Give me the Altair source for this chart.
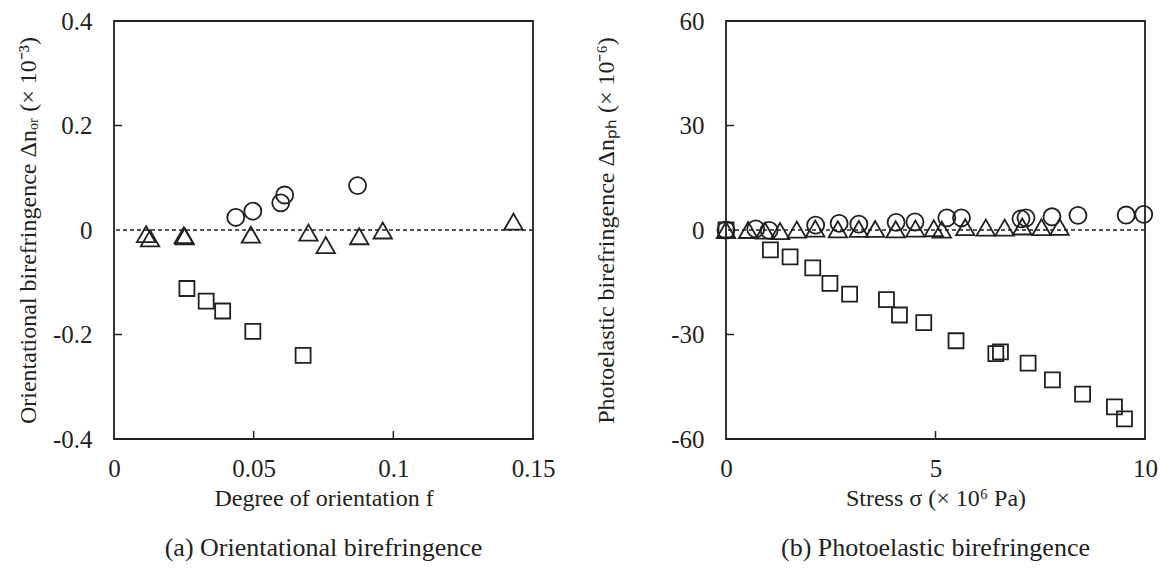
import altair as alt
import pandas as pd

INK = "#231f20"
FONT = "Liberation Serif"

# ---------------- Panel (a): orientational birefringence ----------------
a_circle_f = [0.0436, 0.0497, 0.0597, 0.0611, 0.0872]
a_circle_v = [0.024, 0.036, 0.052, 0.067, 0.085]
a_tri_f = [0.0115, 0.0129, 0.0250, 0.0253, 0.0490, 0.0696, 0.0758, 0.0878, 0.0962, 0.1430]
a_tri_v = [-0.008, -0.016, -0.010, -0.012, -0.009, -0.005, -0.029, -0.012, -0.001, 0.016]
a_sq_f = [0.0261, 0.0330, 0.0389, 0.0497, 0.0677]
a_sq_v = [-0.112, -0.136, -0.155, -0.194, -0.240]
a_xticks = [0, 0.05, 0.1, 0.15]
a_yticks = [-0.4, -0.2, 0, 0.2, 0.4]

# ---------------- Panel (b): photoelastic birefringence ----------------
b_circle_s = [0.0, 0.71, 1.03, 2.14, 2.70, 3.17, 4.06, 4.51, 5.27, 5.62, 7.04, 7.16, 7.78, 8.40, 9.55, 9.97]
b_circle_v = [0.0, 0.3, -0.1, 1.4, 1.9, 1.7, 2.2, 2.3, 3.5, 3.5, 3.2, 3.5, 3.8, 4.2, 4.3, 4.5]
b_tri_s = [0.0, 0.53, 0.93, 1.29, 1.69, 2.13, 2.67, 3.17, 3.56, 4.05, 4.52, 4.96, 5.15,
           5.71, 6.20, 6.65, 7.07, 7.53, 7.96]
b_tri_v = [0.0, 0.0, -0.2, -0.3, 0.1, 0.4, 0.2, 0.3, 0.3, 0.2, 0.4, 0.5, 0.1,
           0.8, 0.7, 0.7, 1.0, 0.8, 0.9]
b_sq_s = [0.0, 1.06, 1.53, 2.07, 2.48, 2.95, 3.83, 4.14, 4.72, 5.49, 6.44, 6.55, 7.21,
          7.79, 8.51, 9.27, 9.51]
b_sq_v = [0.0, -5.7, -7.7, -10.9, -15.3, -18.4, -20.0, -24.4, -26.6, -31.8, -35.5, -35.0,
          -38.2, -43.0, -47.1, -50.8, -54.2]
b_xticks = [0, 5, 10]
b_yticks = [-60, -30, 0, 30, 60]

W, H = 419, 418

LABEL_EXPR = "(datum.value < 0 ? '-' : '') + format(abs(datum.value), '~g')"


def panel(cx, cy, tx, ty, sx, sy, xticks, yticks, xtitle, ytitle, caption, ytitle_pad):
    xdom = [xticks[0], xticks[-1]]
    ydom = [yticks[0], yticks[-1]]
    xs = alt.Scale(domain=xdom, nice=False, zero=False)
    ys = alt.Scale(domain=ydom, nice=False, zero=False)
    xax = alt.Axis(values=xticks, title=xtitle, labelExpr=LABEL_EXPR, ticks=False,
                   domain=False, grid=False, labelPadding=17, titlePadding=5,
                   labelFlush=False)
    yax = alt.Axis(values=yticks, title=ytitle, labelExpr=LABEL_EXPR, ticks=False,
                   domain=False, grid=False, labelPadding=22, titlePadding=ytitle_pad,
                   labelFlush=False)

    zero = alt.Chart(pd.DataFrame({"y": [0]})).mark_rule(
        color=INK, strokeWidth=1.4, strokeDash=[4, 3]
    ).encode(y=alt.Y("y:Q", scale=ys, axis=yax))

    def pts(xv, yv, shape, size):
        return alt.Chart(pd.DataFrame({"x": xv, "y": yv})).mark_point(
            shape=shape, size=size, filled=False, color=INK, strokeWidth=1.8, opacity=1
        ).encode(x=alt.X("x:Q", scale=xs, axis=xax), y=alt.Y("y:Q", scale=ys, axis=yax))

    inner_y = [v for v in yticks[1:-1] if v != 0]
    inner_x = xticks[1:-1]
    ytick = alt.Chart(pd.DataFrame({"y": inner_y})).mark_rule(color=INK, strokeWidth=1.5).encode(
        y=alt.Y("y:Q", scale=ys, axis=yax), x=alt.value(0), x2=alt.value(8))
    xtick = alt.Chart(pd.DataFrame({"x": inner_x})).mark_rule(color=INK, strokeWidth=1.5).encode(
        x=alt.X("x:Q", scale=xs, axis=xax), y=alt.value(H), y2=alt.value(H - 8))

    return alt.layer(
        zero, ytick, xtick,
        pts(tx, ty, "triangle-up", 340),
        pts(sx, sy, "square", 225),
        pts(cx, cy, "circle", 290),
    ).properties(
        width=W, height=H,
        title=alt.TitleParams(caption, orient="bottom", anchor="middle", font=FONT,
                              fontSize=26, fontWeight="normal", color=INK, offset=25),
    )


left = panel(a_circle_f, a_circle_v, a_tri_f, a_tri_v, a_sq_f, a_sq_v, a_xticks, a_yticks,
             "Degree of orientation f", "Orientational birefringence Δnₒᵣ (× 10⁻³)",
             "(a) Orientational birefringence", 12)
right = panel(b_circle_s, b_circle_v, b_tri_s, b_tri_v, b_sq_s, b_sq_v, b_xticks, b_yticks,
              "Stress σ (× 10⁶ Pa)", "Photoelastic birefringence Δnₚₕ (× 10⁻⁶)",
              "(b) Photoelastic birefringence", 52)

chart = alt.hconcat(left, right, spacing=37).properties(
    padding={"left": 15, "top": 8, "right": 0, "bottom": 0}
).configure(
    background="white"
).configure_view(
    stroke=INK, strokeWidth=1.8
).configure_axis(
    labelFont=FONT, labelFontSize=25, labelColor=INK,
    titleFont=FONT, titleFontSize=24, titleFontWeight="normal", titleColor=INK,
)

chart.save("out.html", embed_options={"renderer": "svg", "actions": False})
